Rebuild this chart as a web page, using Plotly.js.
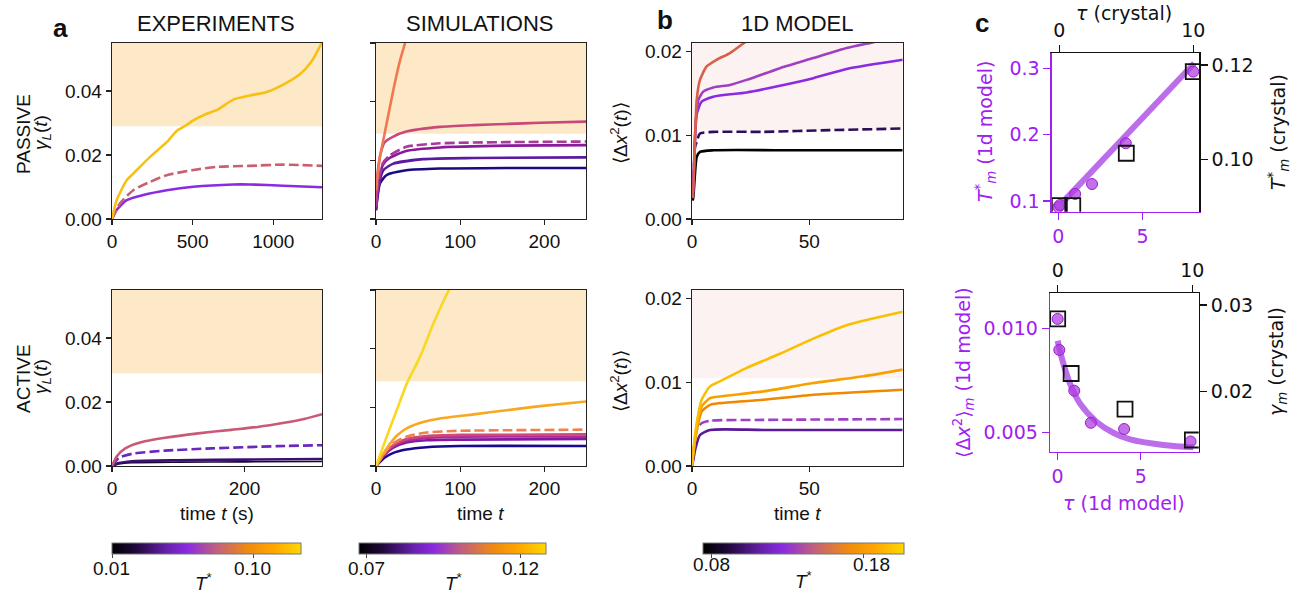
<!DOCTYPE html>
<html>
<head>
<meta charset="utf-8">
<script src="https://cdn.plot.ly/plotly-3.0.1.min.js"></script>
<style>html,body{margin:0;padding:0;background:#fff;}#chart{width:1298px;height:596px;}</style>
</head>
<body>
<div id="chart"></div>
<script>
// ---------------- DATA ----------------
// Panel a, EXPERIMENTS, PASSIVE  (time in s, gamma_L)
const expPassGoldT = [0, 29, 91, 132, 236, 339, 401, 460, 504, 587, 649, 752, 855, 959, 1062, 1165, 1238, 1302];
const expPassGoldY = [0, 0.0059, 0.0121, 0.0142, 0.0194, 0.0240, 0.0275, 0.0293, 0.0308, 0.0329, 0.0340, 0.0373, 0.0386, 0.0397, 0.0420, 0.0452, 0.0493, 0.0552];
const expPassDashT = [0, 50, 132, 236, 339, 504, 649, 855, 1062, 1302];
const expPassDashY = [0, 0.0049, 0.0090, 0.0116, 0.0137, 0.0153, 0.0163, 0.0166, 0.0170, 0.0166];
const expPassPurpT = [0, 29, 91, 194, 339, 504, 752, 855, 1062, 1302];
const expPassPurpY = [0, 0.0028, 0.0059, 0.0075, 0.0090, 0.0101, 0.0108, 0.0108, 0.0104, 0.0099];
// Panel a, EXPERIMENTS, ACTIVE
const expActPinkT = [0, 7, 20, 40, 80, 130, 180, 220, 260, 290, 317];
const expActPinkY = [0, 0.0030, 0.0055, 0.0072, 0.0088, 0.0102, 0.0113, 0.0122, 0.0135, 0.0147, 0.0162];
const expActDashT = [0, 10, 30, 80, 150, 250, 317];
const expActDashY = [0, 0.0025, 0.0038, 0.0048, 0.0055, 0.0062, 0.0065];
const expActDarkT = [0, 10, 30, 100, 200, 317];
const expActDarkY = [0, 0.0009, 0.0015, 0.0018, 0.0020, 0.0022];
const expActBlackT = [0, 10, 30, 100, 200, 317];
const expActBlackY = [0, 0.0006, 0.0010, 0.0012, 0.0013, 0.0014];

// SIMULATIONS, PASSIVE (arbitrary units, ticks every 0.01)
const simPassT1 = [0, 4.75, 12.7, 20.6, 28.5, 34.9, 40];
const simPassY1 = [0.0049, 0.0106, 0.0163, 0.0220, 0.0270, 0.0302, 0.0330];
const simPassT2 = [0, 1, 3, 6, 10, 20, 36, 76, 116, 155, 195, 250];
const simPassY2 = [0.0032, 0.0060, 0.0092, 0.0115, 0.0130, 0.0140, 0.0149, 0.0157, 0.0160, 0.0162, 0.0164, 0.0166];
const simPassT3 = [0, 3, 8, 16, 36, 76, 155, 250];
const simPassY3 = [0.0021, 0.0065, 0.0095, 0.0108, 0.0123, 0.0129, 0.0131, 0.0132];
const simPassT4 = [0, 3, 8, 16, 36, 76, 155, 250];
const simPassY4 = [0.0018, 0.0060, 0.0092, 0.0104, 0.0116, 0.0122, 0.0125, 0.0126];
const simPassT5 = [0, 3, 8.7, 20, 56, 116, 250];
const simPassY5 = [0.0015, 0.0055, 0.0083, 0.0094, 0.0102, 0.0104, 0.0105];
const simPassT6 = [0, 2, 4.75, 12.7, 36, 76, 155, 250];
const simPassY6 = [0.0015, 0.0040, 0.0061, 0.0075, 0.0083, 0.0086, 0.0087, 0.0087];

// SIMULATIONS, ACTIVE
const simActT1 = [0, 12.7, 24.6, 36.4, 52.3, 68, 86.7, 95];
const simActY1 = [0, 0.0050, 0.0095, 0.0140, 0.0186, 0.0242, 0.0300, 0.0320];
const simActT2 = [0, 5, 10, 16.6, 25, 36.4, 56, 76, 116, 155, 195, 250];
const simActY2 = [0, 0.0012, 0.0024, 0.0038, 0.0052, 0.0064, 0.0075, 0.0081, 0.0088, 0.0095, 0.0102, 0.0110];
const simActT3 = [0, 10, 20, 36, 60, 100, 160, 250];
const simActY3 = [0, 0.0022, 0.0038, 0.0050, 0.0057, 0.0060, 0.0061, 0.0062];
const simActT4 = [0, 10, 20, 36, 60, 100, 250];
const simActY4 = [0, 0.0021, 0.0035, 0.0046, 0.0051, 0.0053, 0.0054];
const simActT5 = [0, 10, 20, 36, 60, 100, 250];
const simActY5 = [0, 0.0020, 0.0033, 0.0043, 0.0048, 0.0050, 0.0050];
const simActT6 = [0, 10, 20, 36, 60, 100, 250];
const simActY6 = [0, 0.0019, 0.0031, 0.0040, 0.0044, 0.0045, 0.0046];
const simActT7 = [0, 10, 20, 36, 60, 100, 250];
const simActY7 = [0, 0.0014, 0.0022, 0.0028, 0.0032, 0.0034, 0.0034];

// 1D MODEL, PASSIVE
const m1PassT1 = [0.3, 0.6, 1.3, 2, 3.4, 6.25, 10.5, 16.2, 22.6, 25];
const m1PassY1 = [0.0025, 0.0039, 0.0094, 0.0142, 0.0166, 0.0182, 0.0190, 0.0198, 0.0211, 0.0216];
const m1PassT2 = [0.3, 0.8, 1.3, 2, 2.7, 4.8, 9.1, 16.2, 23.3, 37.5, 51.7, 65.9, 77.3, 80];
const m1PassY2 = [0.0025, 0.0060, 0.0102, 0.0128, 0.0142, 0.0152, 0.0157, 0.0160, 0.0166, 0.0180, 0.0192, 0.0204, 0.0211, 0.0213];
const m1PassT3 = [0.3, 0.8, 1.3, 2, 4.1, 9.1, 23.3, 37.5, 51.7, 65.9, 89.8];
const m1PassY3 = [0.0025, 0.0055, 0.0095, 0.0125, 0.0140, 0.0146, 0.0151, 0.0159, 0.0168, 0.0179, 0.0190];
const m1PassT4 = [0.3, 0.8, 1.3, 2, 3.4, 9.1, 30.4, 58.8, 89.8];
const m1PassY4 = [0.0030, 0.0058, 0.0086, 0.0092, 0.0102, 0.0104, 0.0104, 0.0106, 0.0108];
const m1PassT5 = [0.3, 0.6, 1.3, 2, 3.4, 9.1, 44.6, 89.8];
const m1PassY5 = [0.0022, 0.0027, 0.0055, 0.0074, 0.0080, 0.0082, 0.0082, 0.0082];

// 1D MODEL, ACTIVE
const m1ActT1 = [0, 0.6, 2, 4.1, 7.7, 11.9, 23.3, 37.5, 51.7, 65.9, 89.8];
const m1ActY1 = [0, 0.0019, 0.0051, 0.0079, 0.0095, 0.0101, 0.0117, 0.0134, 0.0152, 0.0168, 0.0184];
const m1ActT2 = [0, 0.6, 2, 4.1, 7.7, 11.9, 30.4, 51.7, 73, 89.8];
const m1ActY2 = [0, 0.0017, 0.0045, 0.0071, 0.0081, 0.0083, 0.0089, 0.0099, 0.0107, 0.0115];
const m1ActT3 = [0, 0.6, 2, 4.1, 7.7, 11.9, 30.4, 51.7, 89.8];
const m1ActY3 = [0, 0.0016, 0.0042, 0.0065, 0.0073, 0.0075, 0.0079, 0.0085, 0.0091];
const m1ActT4 = [0, 0.6, 2, 4.1, 7.7, 30.4, 89.8];
const m1ActY4 = [0, 0.0015, 0.0043, 0.0051, 0.0054, 0.0055, 0.0056];
const m1ActT5 = [0, 0.6, 1.3, 3.4, 7.7, 30.4, 89.8];
const m1ActY5 = [0, 0.0008, 0.0019, 0.0037, 0.0043, 0.0043, 0.0043];

// Panel c, top: melting temperature
const cTopTau1d = [0, 0.1, 1, 2, 4, 8];
const cTopTm1d = [0.091, 0.094, 0.1106, 0.1256, 0.187, 0.295];
const cTopFitTau = [0.2, 8.06];
const cTopFitTm = [0.0965, 0.3077];
const cTopTauCr = [0, 1, 5, 10];
const cTopTmCr = [0.0902, 0.0902, 0.1013, 0.1186];
// Panel c, bottom: plateau values
const cBotTau1d = [0, 0.1, 1, 2, 4, 8];
const cBotDx1d = [0.01045, 0.00896, 0.0070, 0.00546, 0.00516, 0.00456];
const cBotFitTau = [0, 0.34, 0.74, 1.34, 2.35, 3.35, 4.36, 6.36, 8.17];
const cBotFitDx = [0.0094, 0.00831, 0.00735, 0.00639, 0.0055, 0.00498, 0.00466, 0.00439, 0.00428];
const cBotTauCr = [0, 1, 5, 10];
const cBotGamCr = [0.02839, 0.0221, 0.0180, 0.01443];

// Colorbar tick labels
const cbExpTicks = [0.01, 0.10], cbExpText = ['0.01', '0.10'];
const cbSimTicks = [0.07, 0.12], cbSimText = ['0.07', '0.12'];
const cb1dTicks = [0.08, 0.18], cb1dText = ['0.08', '0.18'];

// ---------------- LAYOUT HELPERS ----------------
const W = 1298, H = 596;
const PX = p => p / W, PY = p => 1 - p / H;
const FONT = 'Liberation Sans, Arial, Helvetica, sans-serif';
const DJ = 'DejaVu Sans, sans-serif';
const PURPLE = '#a020f0';
const CMAP = [[0, '#000000'], [0.12, '#1e0838'], [0.3, '#6a22b0'], [0.4, '#8a2be2'], [0.55, '#c06080'], [0.72, '#f08a10'], [0.85, '#ffa500'], [1, '#ffd700']];

function axis(dom, anchor, range, tickvals, ticktext, extra) {
  return Object.assign({
    domain: dom, anchor: anchor, range: range, tickvals: tickvals, ticktext: ticktext,
    showgrid: false, zeroline: false, showline: true, linecolor: '#222', linewidth: 1.3,
    mirror: true, ticks: 'outside', ticklen: 5, tickwidth: 1.2, tickcolor: '#222',
    tickfont: {family: FONT, size: 19, color: '#111'}, fixedrange: true
  }, extra || {});
}
const colX = [[PX(112), PX(322)], [PX(376), PX(586)], [PX(692), PX(902.7)]];
const row1Y = [PY(219), PY(43)];
const row2Y = [PY(466), PY(290)];

function line(x, y, xa, ya, color, dash, width) {
  return {type: 'scatter', mode: 'lines', x: x, y: y, xaxis: xa, yaxis: ya,
    line: {color: color, width: width || 2.6, dash: dash ? '10px,4px' : 'solid', shape: 'spline', smoothing: 0.6},
    hoverinfo: 'skip', showlegend: false, cliponaxis: true};
}

const traces = [
  // exp passive
  line(expPassPurpT, expPassPurpY, 'x', 'y', '#8a2be2'),
  line(expPassDashT, expPassDashY, 'x', 'y', '#c86070', true),
  line(expPassGoldT, expPassGoldY, 'x', 'y', '#f8c010'),
  // sim passive
  line(simPassT6, simPassY6, 'x2', 'y2', '#1a0a80'),
  line(simPassT5, simPassY5, 'x2', 'y2', '#5a1aa0'),
  line(simPassT4, simPassY4, 'x2', 'y2', '#8a1a9a'),
  line(simPassT3, simPassY3, 'x2', 'y2', '#a83a9a', true),
  line(simPassT2, simPassY2, 'x2', 'y2', '#c8487a'),
  line(simPassT1, simPassY1, 'x2', 'y2', '#f07850'),
  // 1d passive
  line(m1PassT5, m1PassY5, 'x3', 'y3', '#000000'),
  line(m1PassT4, m1PassY4, 'x3', 'y3', '#2e0e5a', true),
  line(m1PassT3, m1PassY3, 'x3', 'y3', '#8a2be2'),
  line(m1PassT2, m1PassY2, 'x3', 'y3', '#a040c0'),
  line(m1PassT1, m1PassY1, 'x3', 'y3', '#d86048'),
  // exp active
  line(expActBlackT, expActBlackY, 'x6', 'y6', '#1a0830', false, 1.6),
  line(expActDarkT, expActDarkY, 'x6', 'y6', '#3a1070'),
  line(expActDashT, expActDashY, 'x6', 'y6', '#6a28c0', true),
  line(expActPinkT, expActPinkY, 'x6', 'y6', '#c85a78'),
  // sim active
  line(simActT7, simActY7, 'x7', 'y7', '#1a0a90'),
  line(simActT6, simActY6, 'x7', 'y7', '#8018a8'),
  line(simActT5, simActY5, 'x7', 'y7', '#b02a90'),
  line(simActT4, simActY4, 'x7', 'y7', '#d04878'),
  line(simActT3, simActY3, 'x7', 'y7', '#f08050', true),
  line(simActT2, simActY2, 'x7', 'y7', '#f8a820'),
  line(simActT1, simActY1, 'x7', 'y7', '#f8d820'),
  // 1d active
  line(m1ActT5, m1ActY5, 'x8', 'y8', '#5a1a98'),
  line(m1ActT4, m1ActY4, 'x8', 'y8', '#a040c8', true),
  line(m1ActT3, m1ActY3, 'x8', 'y8', '#f08800'),
  line(m1ActT2, m1ActY2, 'x8', 'y8', '#f8a000'),
  line(m1ActT1, m1ActY1, 'x8', 'y8', '#f8c000'),
  // panel c top
  {type: 'scatter', mode: 'lines', x: cTopFitTau, y: cTopFitTm, xaxis: 'x4', yaxis: 'y4',
    line: {color: 'rgba(165,60,225,0.75)', width: 6}, hoverinfo: 'skip', showlegend: false},
  {type: 'scatter', mode: 'markers', x: cTopTau1d, y: cTopTm1d, xaxis: 'x4', yaxis: 'y4',
    marker: {symbol: 'circle', size: 11, color: 'rgba(176,64,224,0.75)', line: {color: '#9a20d0', width: 1}}, hoverinfo: 'skip', showlegend: false},
  {type: 'scatter', mode: 'markers', x: cTopTauCr, y: cTopTmCr, xaxis: 'x5', yaxis: 'y5',
    marker: {symbol: 'square-open', size: 15, color: '#111', line: {color: '#111', width: 1.8}}, hoverinfo: 'skip', showlegend: false},
  // panel c bottom
  {type: 'scatter', mode: 'lines', x: cBotFitTau, y: cBotFitDx, xaxis: 'x9', yaxis: 'y9',
    line: {color: 'rgba(165,60,225,0.75)', width: 6, shape: 'spline'}, hoverinfo: 'skip', showlegend: false},
  {type: 'scatter', mode: 'markers', x: cBotTau1d, y: cBotDx1d, xaxis: 'x9', yaxis: 'y9',
    marker: {symbol: 'circle', size: 11, color: 'rgba(176,64,224,0.75)', line: {color: '#9a20d0', width: 1}}, hoverinfo: 'skip', showlegend: false},
  {type: 'scatter', mode: 'markers', x: cBotTauCr, y: cBotGamCr, xaxis: 'x10', yaxis: 'y10',
    marker: {symbol: 'square-open', size: 15, color: '#111', line: {color: '#111', width: 1.8}}, hoverinfo: 'skip', showlegend: false}
];

function cbar(cmin, cmax, x0, x1, ytop, tv) {
  return {type: 'scatter', mode: 'markers', x: [null], y: [null], xaxis: 'x', yaxis: 'y', showlegend: false, hoverinfo: 'skip',
    marker: {color: [(cmin + cmax) / 2], cmin: cmin, cmax: cmax, colorscale: CMAP, showscale: true,
      colorbar: {orientation: 'h', x: PX((x0 + x1) / 2), xanchor: 'center', y: PY(ytop), yanchor: 'top',
        len: (x1 - x0) / W, lenmode: 'fraction', thickness: 11, xpad: 0, ypad: 0,
        outlinewidth: 1, outlinecolor: '#777', tickvals: tv, showticklabels: false, ticks: 'outside', ticklen: 4,
        tickcolor: '#444'}}};
}
traces.push(cbar(0.0097, 0.130, 111.7, 300.7, 543.3, cbExpTicks));
traces.push(cbar(0.0676, 0.1282, 359.3, 546, 543.3, cbSimTicks));
traces.push(cbar(0.0744, 0.2064, 702.7, 904, 542.7, cb1dTicks));

const cPurpleAx = {showline: true, linecolor: PURPLE, mirror: false, tickcolor: PURPLE, ticklen: 7,
  tickfont: {family: DJ, size: 19, color: PURPLE}};
const cBlackAx = {showline: true, linecolor: '#111', mirror: false, tickcolor: '#111', ticklen: 7,
  tickfont: {family: DJ, size: 19, color: '#111'}};
const cTopX = [PX(1051.7), PX(1199.3)], cTopY = [PY(211.7), PY(53.3)];
const cBotX = [PX(1050), PX(1198.7)], cBotY = [PY(451.7), PY(293.3)];

const layout = {
  width: W, height: H, margin: {l: 0, r: 0, t: 0, b: 0}, paper_bgcolor: '#fff', plot_bgcolor: 'rgba(0,0,0,0)',
  showlegend: false,
  xaxis: axis(colX[0], 'y', [0, 1302], [0, 500, 1000], ['0', '500', '1000']),
  yaxis: axis(row1Y, 'x', [0, 0.055], [0, 0.02, 0.04], ['0.00', '0.02', '0.04']),
  xaxis2: axis(colX[1], 'y2', [0, 249.5], [0, 100, 200], ['0', '100', '200']),
  yaxis2: axis(row1Y, 'x2', [0, 0.03], [0, 0.01, 0.02, 0.03], null, {showticklabels: false}),
  xaxis3: axis(colX[2], 'y3', [0, 89.8], [0, 50], ['0', '50']),
  yaxis3: axis(row1Y, 'x3', [0, 0.021], [0, 0.01, 0.02], ['0.00', '0.01', '0.02']),
  xaxis4: axis(cTopX, 'y4', [-0.39, 8.36], [0, 5], ['0', '5'], cPurpleAx),
  yaxis4: axis(cTopY, 'x4', [0.0839, 0.3226], [0.1, 0.2, 0.3], ['0.1', '0.2', '0.3'], cPurpleAx),
  xaxis5: axis(cTopX, 'y5', [-0.57, 10.45], [0, 10], ['0', '10'], Object.assign({side: 'top', overlaying: 'x4'}, cBlackAx)),
  yaxis5: axis(cTopY, 'x5', [0.0889, 0.1225], [0.10, 0.12], ['0.10', '0.12'], Object.assign({side: 'right', overlaying: 'y4'}, cBlackAx)),
  xaxis6: axis(colX[0], 'y6', [0, 317], [0, 200], ['0', '200']),
  yaxis6: axis(row2Y, 'x6', [0, 0.055], [0, 0.02, 0.04], ['0.00', '0.02', '0.04']),
  xaxis7: axis(colX[1], 'y7', [0, 249.5], [0, 100, 200], ['0', '100', '200']),
  yaxis7: axis(row2Y, 'x7', [0, 0.03], [0, 0.01, 0.02, 0.03], null, {showticklabels: false}),
  xaxis8: axis(colX[2], 'y8', [0, 89.8], [0, 50], ['0', '50']),
  yaxis8: axis(row2Y, 'x8', [0, 0.021], [0, 0.01, 0.02], ['0.00', '0.01', '0.02']),
  xaxis9: axis(cBotX, 'y9', [-0.46, 8.49], [0, 5], ['0', '5'], cPurpleAx),
  yaxis9: axis(cBotY, 'x9', [0.00407, 0.01168], [0.005, 0.010], ['0.005', '0.010'], cPurpleAx),
  xaxis10: axis(cBotX, 'y10', [-0.57, 10.47], [0, 10], ['0', '10'], Object.assign({side: 'top', overlaying: 'x9'}, cBlackAx)),
  yaxis10: axis(cBotY, 'x10', [0.01308, 0.03135], [0.02, 0.03], ['0.02', '0.03'], Object.assign({side: 'right', overlaying: 'y9'}, cBlackAx)),
  shapes: [
    {type: 'rect', xref: 'x domain', yref: 'y', x0: 0, x1: 1, y0: 0.029, y1: 0.055, fillcolor: '#fde9c7', line: {width: 0}, layer: 'below'},
    {type: 'rect', xref: 'x6 domain', yref: 'y6', x0: 0, x1: 1, y0: 0.029, y1: 0.055, fillcolor: '#fde9c7', line: {width: 0}, layer: 'below'},
    {type: 'rect', xref: 'x2 domain', yref: 'y2', x0: 0, x1: 1, y0: 0.01452, y1: 0.03, fillcolor: '#fde9c7', line: {width: 0}, layer: 'below'},
    {type: 'rect', xref: 'x7 domain', yref: 'y7', x0: 0, x1: 1, y0: 0.01443, y1: 0.03, fillcolor: '#fde9c7', line: {width: 0}, layer: 'below'},
    {type: 'rect', xref: 'x3 domain', yref: 'y3', x0: 0, x1: 1, y0: 0.0106, y1: 0.021, fillcolor: '#fdf2f2', line: {width: 0}, layer: 'below'},
    {type: 'rect', xref: 'x8 domain', yref: 'y8', x0: 0, x1: 1, y0: 0.01046, y1: 0.021, fillcolor: '#fdf2f2', line: {width: 0}, layer: 'below'}
  ],
  annotations: []
};

function ann(x, y, text, o) {
  o = o || {};
  layout.annotations.push({xref: 'paper', yref: 'paper', x: PX(x), y: PY(y), text: text, showarrow: false,
    xanchor: o.xa || 'center', yanchor: o.ya || 'middle', textangle: o.rot || 0,
    font: {family: o.family || FONT, size: o.size || 19, color: o.color || '#111'}});
}
ann(60, 28, '<b>a</b>', {size: 26});
ann(665, 20, '<b>b</b>', {size: 26});
ann(982, 23, '<b>c</b>', {size: 26});
ann(216, 23, 'EXPERIMENTS', {size: 22});
ann(480, 23, 'SIMULATIONS', {size: 22});
ann(797, 23, '1D MODEL', {size: 22});
ann(23, 134, 'PASSIVE', {rot: -90});
ann(42, 133, '<i>γ</i><sub><i>L</i></sub>(<i>t</i>)', {rot: -90});
ann(23, 379, 'ACTIVE', {rot: -90});
ann(42, 377, '<i>γ</i><sub><i>L</i></sub>(<i>t</i>)', {rot: -90});
ann(619, 133, '⟨Δ<i>x</i><sup>2</sup>(<i>t</i>)⟩', {rot: -90});
ann(619, 381, '⟨Δ<i>x</i><sup>2</sup>(<i>t</i>)⟩', {rot: -90});
ann(217, 513, 'time <i>t</i> (s)');
ann(480, 513, 'time <i>t</i>');
ann(797, 513, 'time <i>t</i>');
// colorbar tick labels and titles
ann(111, 568, cbExpText[0]);
ann(252, 568, cbExpText[1]);
ann(366.7, 568, cbSimText[0]);
ann(520, 568, cbSimText[1]);
ann(711, 564, cb1dText[0]);
ann(871, 564, cb1dText[1]);
ann(203, 582, '<i>T</i><sup>*</sup>');
ann(453, 582, '<i>T</i><sup>*</sup>');
ann(803, 580, '<i>T</i><sup>*</sup>');
// panel c labels
ann(1124, 13, '<i>τ</i> (crystal)', {family: DJ});
ann(985, 132, '<i>T</i><sup>*</sup><sub><i>m</i></sub> (1d model)', {family: DJ, color: PURPLE, rot: -90});
ann(1278, 132, '<i>T</i><sup>*</sup><sub><i>m</i></sub> (crystal)', {family: DJ, rot: -90});
ann(963, 373, '⟨Δ<i>x</i><sup>2</sup>⟩<sub><i>m</i></sub> (1d model)', {family: DJ, color: PURPLE, rot: -90});
ann(1277, 362, '<i>γ</i><sub><i>m</i></sub> (crystal)', {family: DJ, rot: -90});
ann(1124, 503, '<i>τ</i> (1d model)', {family: DJ, color: PURPLE});

Plotly.newPlot('chart', traces, layout, {staticPlot: true, displayModeBar: false});
</script>
</body>
</html>
